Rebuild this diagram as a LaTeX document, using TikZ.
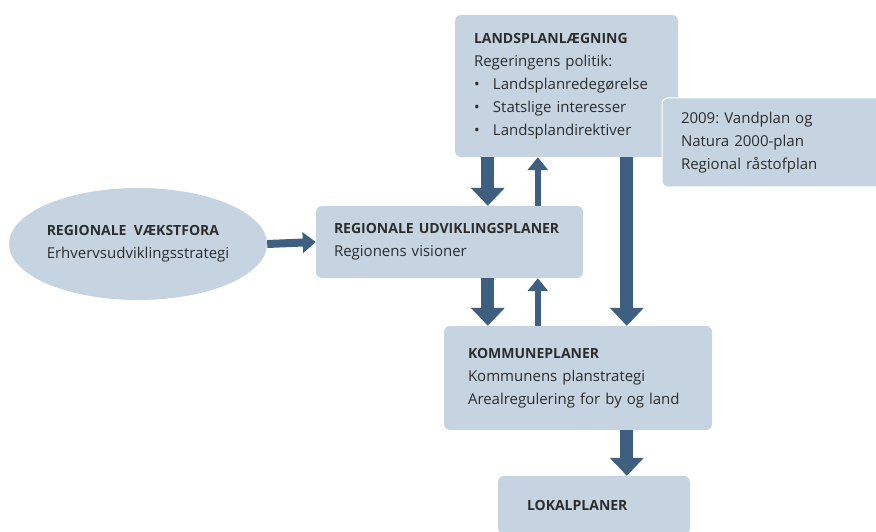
\documentclass[tikz,border=0pt]{standalone}
\usepackage{fontspec}
\setmainfont{Open Sans}
\usetikzlibrary{arrows.meta,shapes.geometric}
\definecolor{boxblue}{RGB}{198,212,226}
\definecolor{arrowblue}{RGB}{62,95,128}
\definecolor{textgray}{RGB}{45,45,45}
\newcommand{\planhead}[1]{\mbox{\fontsize{14}{23}\selectfont\bfseries #1}}
\frenchspacing
\begin{document}
\begin{tikzpicture}[x=1pt,y=-1pt,
	planbox/.style={fill=boxblue, rounded corners=6pt, align=left, inner xsep=19pt, inner ysep=0pt,
		text=textgray, font=\fontsize{15}{23}\selectfont},
	bigarrow/.style={draw=arrowblue, line width=13pt, -{Triangle[width=33pt,length=18pt]}},
	thinarrow/.style={draw=arrowblue, line width=6pt, -{Triangle[width=20pt,length=13pt]}}]
	\useasboundingbox (0,0) rectangle (876,532);
	\node[planbox, text width=185pt, minimum height=142pt] (land) at (566.5,86)
		{\planhead{LANDSPLANLÆGNING}\\Regeringens politik:\\
		\makebox[19pt][l]{\textbullet}Landsplanredegørelse\\
		\makebox[19pt][l]{\textbullet}Statslige interesser\\
		\makebox[19pt][l]{\textbullet}Landsplandirektiver};
	\node[planbox, draw=white, line width=1pt, text width=186pt, minimum height=89pt] (natur) at (774,142.5)
		{2009: Vandplan og\\Natura 2000-plan\\Regional råstofplan};
	\node[planbox, ellipse, inner xsep=0pt, minimum width=252pt, minimum height=112pt] (vf) at (138,244)
		{\planhead{REGIONALE\ \ VÆKSTFORA}\\Erhvervsudviklingsstrategi};
	\node[planbox, inner xsep=18pt, text width=231pt, minimum height=72pt] (reg) at (449.5,242)
		{\planhead{REGIONALE UDVIKLINGSPLANER}\\Regionens visioner};
	\node[planbox, inner xsep=24pt, text width=220pt, minimum height=104pt] (kom) at (578,378)
		{\planhead{KOMMUNEPLANER}\\Kommunens planstrategi\\Arealregulering for by og land};
	\node[planbox, inner xsep=29pt, text width=134pt, minimum height=58pt] (lok) at (594,505)
		{\planhead{LOKALPLANER}};
	\coordinate (dn) at ([xshift=33pt]land.south west);
	\coordinate (up) at ([xshift=83pt]land.south west);
	\coordinate (rt) at ([xshift=172pt]land.south west);
	\draw[bigarrow] (dn) -- (dn |- reg.north);
	\draw[thinarrow] (up |- reg.north) -- (up);
	\draw[bigarrow] (rt) -- (rt |- kom.north);
	\draw[bigarrow] (dn |- reg.south) -- (dn |- kom.north);
	\draw[thinarrow] (up |- kom.north) -- (up |- reg.south);
	\draw[bigarrow] (rt |- kom.south) -- (rt |- lok.north);
	\draw[thinarrow, line width=8pt] (vf.east) -- (reg.west);
\end{tikzpicture}
\end{document}
